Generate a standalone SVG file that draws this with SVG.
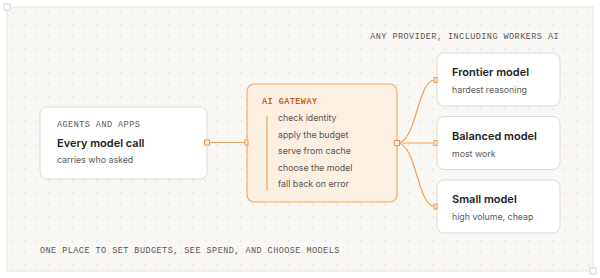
<svg xmlns="http://www.w3.org/2000/svg" width="600" height="278" viewBox="0 0 600 278">
<defs>
<pattern id="dots" x="7" y="7" width="12" height="12" patternUnits="userSpaceOnUse">
<circle cx="6" cy="6" r="0.7" fill="#ddd3c8"/>
</pattern>
<style>
.mono{font-family:"Liberation Mono","DejaVu Sans Mono",monospace;font-size:8.5px;letter-spacing:0.45px;fill:#5a5652}
.gw{font-family:"Liberation Mono","DejaVu Sans Mono",monospace;font-size:8.5px;letter-spacing:0.45px;font-weight:bold;fill:#c4641f}
.title{font-family:Inter,"Liberation Sans",sans-serif;font-size:11px;font-weight:600;fill:#222}
.sub{font-family:Inter,"Liberation Sans",sans-serif;font-size:8.8px;fill:#5b5b5b}
.item{font-family:Inter,"Liberation Sans",sans-serif;font-size:8.8px;fill:#5b5350}
.card{fill:#fff;stroke:#dedad5;stroke-width:1}
.conn{fill:none;stroke:#f0a35c;stroke-width:1.2}
.port{fill:#fdeee0;stroke:#ee9a52;stroke-width:1}
.corner{fill:#fff;stroke:#d8d5d0;stroke-width:1}
</style>
</defs>
<rect x="7" y="7" width="586" height="264" fill="#faf8f5" stroke="#e6e3de" stroke-width="1"/>
<rect x="7" y="7" width="586" height="264" fill="url(#dots)"/>
<rect class="corner" x="4" y="4" width="6" height="6"/>
<rect class="corner" x="590" y="268" width="6" height="6"/>
<text class="mono" x="559" y="39" text-anchor="end">ANY PROVIDER, INCLUDING WORKERS AI</text>
<text class="mono" x="40" y="253">ONE PLACE TO SET BUDGETS, SEE SPEND, AND CHOOSE MODELS</text>
<g id="connectors">
<path class="conn" d="M207 142.5 H247"/>
<path class="conn" d="M397 143 C417 143 417 80 435 80"/>
<path class="conn" d="M397 143 H435"/>
<path class="conn" d="M397 143 C417 143 417 206.5 435 206.5"/>
</g>
<g id="agents">
<rect class="card" x="40" y="107" width="167" height="72" rx="7"/>
<text class="mono" x="57" y="127">AGENTS AND APPS</text>
<text class="title" x="57" y="147">Every model call</text>
<text class="sub" x="57" y="163">carries who asked</text>
</g>
<g id="gateway">
<rect x="247" y="84" width="150" height="118" rx="7" fill="#fdefe2" stroke="#f1ab6c" stroke-width="1.2"/>
<text class="gw" x="262" y="104">AI GATEWAY</text>
<line x1="267" y1="116" x2="267" y2="191" stroke="#f0a35c" stroke-width="1.2"/>
<text class="item" x="278" y="121">check identity</text>
<text class="item" x="278" y="137.5">apply the budget</text>
<text class="item" x="278" y="154">serve from cache</text>
<text class="item" x="278" y="170.5">choose the model</text>
<text class="item" x="278" y="187">fall back on error</text>
</g>
<g id="frontier">
<rect class="card" x="437" y="53" width="123" height="53" rx="7"/>
<text class="title" x="452" y="76">Frontier model</text>
<text class="sub" x="452" y="93">hardest reasoning</text>
</g>
<g id="balanced">
<rect class="card" x="437" y="116.5" width="123" height="53" rx="7"/>
<text class="title" x="452" y="139.5">Balanced model</text>
<text class="sub" x="452" y="156.5">most work</text>
</g>
<g id="small">
<rect class="card" x="437" y="180" width="123" height="53" rx="7"/>
<text class="title" x="452" y="203">Small model</text>
<text class="sub" x="452" y="220">high volume, cheap</text>
</g>
<g id="ports">
<rect class="port" x="204.5" y="140" width="5" height="5"/>
<rect class="port" x="245" y="140" width="3" height="5"/>
<rect class="port" x="394.5" y="140.5" width="5" height="5"/>
<rect class="port" x="434" y="77.5" width="3" height="5"/>
<rect class="port" x="434" y="140.5" width="3" height="5"/>
<rect class="port" x="434" y="204" width="3" height="5"/>
</g>
</svg>
